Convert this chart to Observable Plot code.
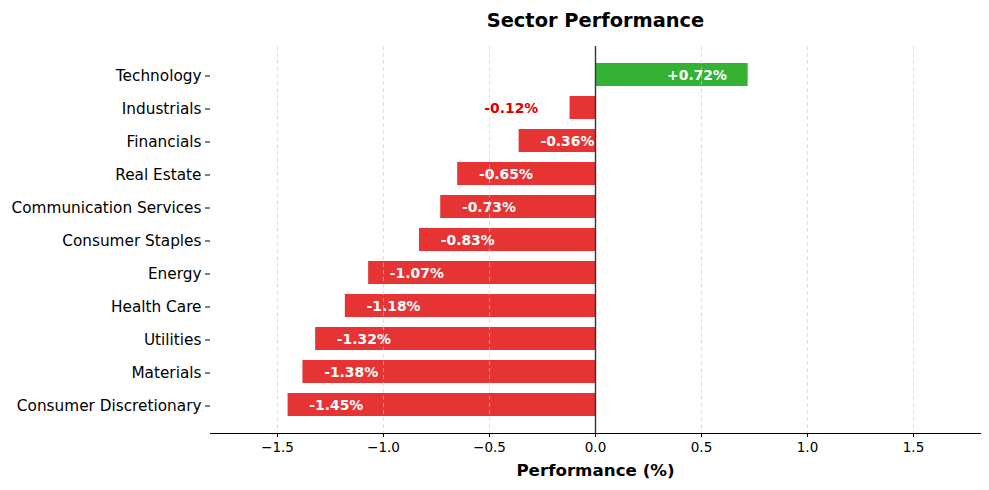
<!DOCTYPE html>
<html>
<head>
<meta charset="utf-8">
<script src="https://cdn.jsdelivr.net/npm/d3@7"></script>
<script src="https://cdn.jsdelivr.net/npm/@observablehq/plot@0.6"></script>
<style>
  html, body { margin: 0; padding: 0; background: #fff; }
  svg { font-family: "DejaVu Sans", sans-serif; }
</style>
</head>
<body>
<div id="chart"></div>
<script>
const sectors = ["Technology", "Industrials", "Financials", "Real Estate", "Communication Services",
  "Consumer Staples", "Energy", "Health Care", "Utilities", "Materials", "Consumer Discretionary"];
const performance = [0.72, -0.12, -0.36, -0.65, -0.73, -0.83, -1.07, -1.18, -1.32, -1.38, -1.45];
const xTicks = [-1.5, -1.0, -0.5, 0.0, 0.5, 1.0, 1.5];

const data = sectors.map((s, i) => ({sector: s, value: performance[i]}));
const fmt = v => (v > 0 ? "+" : "") + v.toFixed(2) + "%";
const small = d => Math.abs(d.value) < 0.2;
const posData = data.filter(d => d.value > 0);
const smallData = data.filter(d => d.value <= 0 && small(d));
const negData = data.filter(d => d.value <= 0 && !small(d));

const minusFmt = v => (v < 0 ? "\u2212" + Math.abs(v).toFixed(1) : v.toFixed(1));
const labelStyle = {y: "sector", text: d => fmt(d.value), fontWeight: "bold", fontSize: 13.9, dy: 0.5};

const chart = Plot.plot({
  width: 989,
  height: 490,
  marginLeft: 210,
  marginRight: 9,
  marginTop: 46,
  marginBottom: 57,
  style: {fontFamily: "DejaVu Sans, sans-serif", background: "#fff"},
  x: {domain: [-1.816, 1.816], ticks: xTicks, tickFormat: minusFmt, label: null},
  y: {domain: sectors, paddingInner: 0.3, paddingOuter: 0.15, insetTop: 12.5, insetBottom: 11.5, label: null},
  marks: [
    Plot.barX(data, {x: "value", y: "sector", fill: d => d.value >= 0 ? "#33b233" : "#e63333"}),
    Plot.ruleX(xTicks, {stroke: "#cccccc", strokeOpacity: 0.8, strokeDasharray: "4,3", strokeWidth: 0.8}),
    Plot.ruleX([0], {stroke: "#333333", strokeWidth: 1.4}),
    Plot.frame({anchor: "bottom", stroke: "#000", strokeWidth: 1}),
    Plot.axisX({ticks: xTicks, tickFormat: minusFmt, tickSize: 4, tickPadding: 5, fontSize: 13.5, fill: "#000", stroke: "#000", label: null}),
    Plot.axisY({tickSize: 5, tickPadding: 4, fontSize: 15.3, fill: "#000", stroke: "#000", label: null, dy: 1}),
    Plot.text(posData, {...labelStyle, x: d => d.value - 0.1, textAnchor: "end", fill: "#ffffff"}),
    Plot.text(negData, {...labelStyle, x: d => d.value + 0.1, textAnchor: "start", fill: "#ffffff"}),
    Plot.text(smallData, {...labelStyle, x: d => d.value - 0.15, textAnchor: "end", fill: "#dd0000"}),
    Plot.text(["Sector Performance"], {frameAnchor: "top", dy: -33, fontSize: 19.4, fontWeight: "bold", fill: "#000"}),
    Plot.text(["Performance (%)"], {frameAnchor: "bottom", dy: 42, fontSize: 16.7, fontWeight: "bold", fill: "#000"})
  ]
});
document.getElementById("chart").appendChild(chart);
</script>
</body>
</html>
